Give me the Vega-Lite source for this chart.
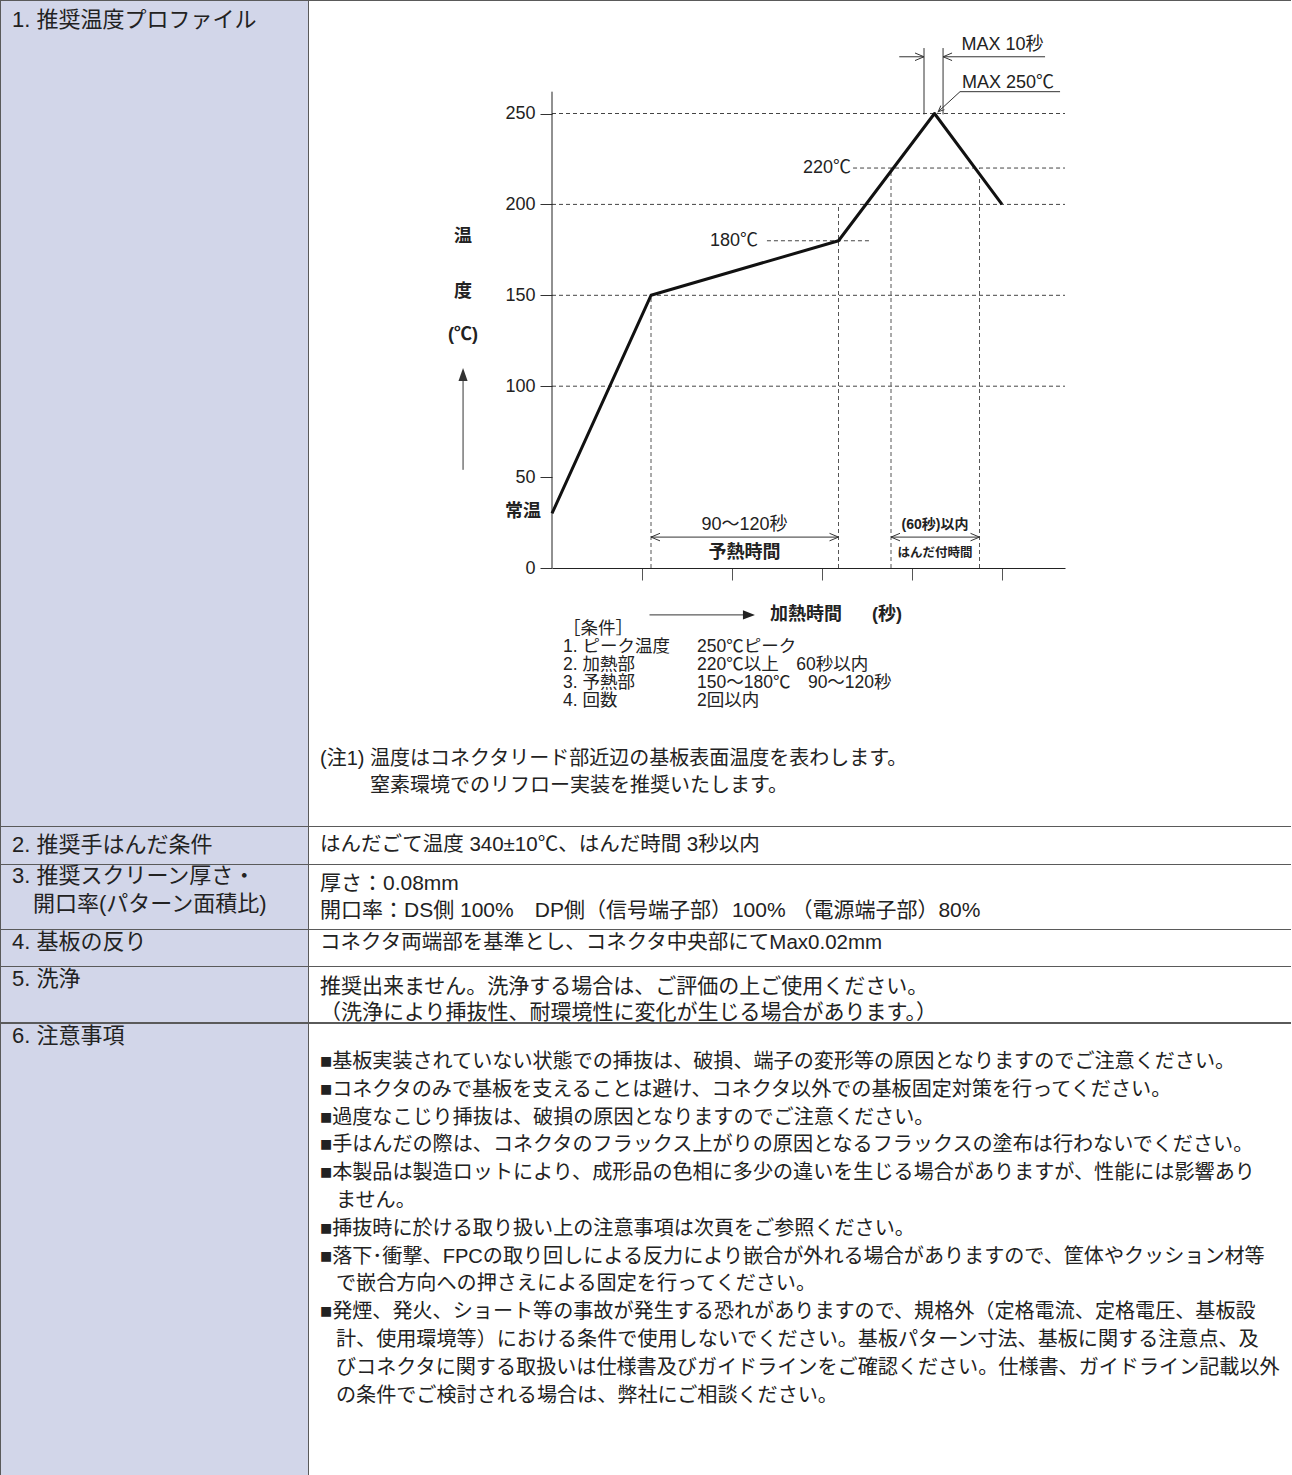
{
  "$schema": "https://vega.github.io/schema/vega-lite/v6.json",
  "padding": {"left": 1, "top": 1, "right": 0, "bottom": 0},
  "spacing": 1,
  "background": "#5a5a5a",
  "config": {
    "view": {"stroke": null},
    "concat": {"spacing": 1},
    "text": {"font": "Liberation Sans, Noto Sans CJK JP, sans-serif", "color": "#222222"}
  },
  "vconcat": [
    {
      "spacing": 1,
      "hconcat": [
        {
          "width": 307, "height": 825,
          "view": {"fill": "#d2d6e9", "stroke": null},
          "data": {"values": [{"line": 0, "text": "1. 推奨温度プロファイル"}]},
          "mark": {"type": "text", "align": "left", "baseline": "middle", "fontSize": 22},
          "encoding": {
            "x": {"datum": 0, "type": "quantitative", "scale": {"domain": [0, 1], "range": [11, 307], "nice": false, "zero": false}, "axis": null},
            "y": {"field": "line", "type": "quantitative", "scale": {"domain": [0, 1], "range": [19, 47], "nice": false, "zero": false}, "axis": null},
            "text": {"field": "text"}
          }
        },
        {
          "width": 982, "height": 825,
          "view": {"fill": "white", "stroke": null},
          "resolve": {"scale": {"x": "independent", "y": "independent"}},
          "layer": [
            {
              "encoding": {
                "x": {"field": "t", "type": "quantitative",
                      "scale": {"domain": [0, 342], "range": [243, 756], "nice": false, "zero": false},
                      "axis": {"orient": "bottom", "offset": -258, "values": [60, 120, 180, 240, 300], "labels": false, "grid": false, "domain": true, "domainColor": "#222222", "domainWidth": 1, "ticks": true, "tickSize": 12, "tickColor": "#555555", "tickWidth": 1, "title": null}},
                "y": {"field": "temp", "type": "quantitative",
                      "scale": {"domain": [0, 250], "range": [567, 112.5], "nice": false, "zero": false},
                      "axis": {"orient": "left", "offset": -243, "values": [0, 50, 100, 150, 200, 250], "grid": false, "domain": false, "ticks": true, "tickSize": 12, "tickColor": "#333333", "tickWidth": 1, "labelFontSize": 18, "labelFont": "Liberation Sans", "labelColor": "#222222", "labelPadding": 5, "title": null}}
              },
              "layer": [
                {
                  "data": {"values": [
                    {"temp": 250, "t": 0, "t2": 342},
                    {"temp": 200, "t": 0, "t2": 342},
                    {"temp": 150, "t": 0, "t2": 342},
                    {"temp": 100, "t": 0, "t2": 342},
                    {"temp": 220, "t": 200.7, "t2": 342},
                    {"temp": 180, "t": 143.3, "t2": 212}
                  ]},
                  "mark": {"type": "rule", "strokeDash": [4, 3], "color": "#444444", "strokeWidth": 1},
                  "encoding": {"x2": {"field": "t2"}}
                },
                {
                  "data": {"values": [
                    {"t": 66, "temp": 0, "temp2": 150},
                    {"t": 191, "temp": 0, "temp2": 200},
                    {"t": 226, "temp": 0, "temp2": 220},
                    {"t": 285, "temp": 0, "temp2": 220}
                  ]},
                  "mark": {"type": "rule", "strokeDash": [4, 3], "color": "#555555", "strokeWidth": 1},
                  "encoding": {"y2": {"field": "temp2"}}
                },
                {
                  "data": {"values": [{"t": 0, "temp": 0, "temp2": 262}]},
                  "mark": {"type": "rule", "color": "#222222", "strokeWidth": 1},
                  "encoding": {"y2": {"field": "temp2"}}
                },
                {
                  "data": {"values": [
                    {"t": 0, "temp": 30},
                    {"t": 66, "temp": 150},
                    {"t": 191, "temp": 180},
                    {"t": 255, "temp": 250},
                    {"t": 300, "temp": 200}
                  ]},
                  "mark": {"type": "line", "color": "#111111", "strokeWidth": 3, "strokeJoin": "round"},
                  "encoding": {}
                },
                {
                  "data": {"values": [
                    {"t": 248, "temp": 249.5, "t2": 248, "temp2": 286},
                    {"t": 260.7, "temp": 249.5, "t2": 260.7, "temp2": 286},
                    {"t": 231.5, "temp": 281.2, "t2": 248, "temp2": 281.2},
                    {"t": 260.7, "temp": 281.2, "t2": 328.7, "temp2": 281.2},
                    {"t": 272, "temp": 262, "t2": 338.7, "temp2": 262},
                    {"t": 272, "temp": 262, "t2": 257.5, "temp2": 251},
                    {"t": 66, "temp": 17, "t2": 191, "temp2": 17},
                    {"t": 226, "temp": 17, "t2": 285, "temp2": 17},
                    {"t": 65, "temp": -25.8, "t2": 130, "temp2": -25.8},
                    {"t": -59.3, "temp": 54, "t2": -59.3, "temp2": 104}
                  ]},
                  "mark": {"type": "rule", "color": "#333333", "strokeWidth": 1},
                  "encoding": {"x2": {"field": "t2"}, "y2": {"field": "temp2"}}
                },
                {
                  "data": {"values": [{"t": 248, "temp": 281.2}, {"t": 191, "temp": 17}, {"t": 285, "temp": 17}]},
                  "mark": {"type": "point", "shape": "M-1,-0.42L0,0L-1,0.42", "filled": false, "stroke": "#333333", "strokeWidth": 1, "size": 324, "opacity": 1},
                  "encoding": {}
                },
                {
                  "data": {"values": [{"t": 260.7, "temp": 281.2}, {"t": 66, "temp": 17}, {"t": 226, "temp": 17}]},
                  "mark": {"type": "point", "shape": "M1,-0.42L0,0L1,0.42", "filled": false, "stroke": "#333333", "strokeWidth": 1, "size": 324, "opacity": 1},
                  "encoding": {}
                },
                {
                  "data": {"values": [{"t": 257.5, "temp": 251}]},
                  "mark": {"type": "point", "shape": "M-1,-0.45L0,0L-1,0.45", "filled": false, "stroke": "#333333", "strokeWidth": 1, "size": 144, "angle": 137.6, "opacity": 1},
                  "encoding": {}
                },
                {
                  "data": {"values": [{"t": -59.3, "temp": 110}]},
                  "mark": {"type": "point", "shape": "M0,0L-0.35,1L0.35,1Z", "filled": true, "color": "#333333", "size": 676, "opacity": 1},
                  "encoding": {}
                },
                {
                  "data": {"values": [{"t": 135.3, "temp": -25.8}]},
                  "mark": {"type": "point", "shape": "M0,0L-1,-0.38L-1,0.38Z", "filled": true, "color": "#222222", "size": 576, "opacity": 1},
                  "encoding": {}
                },
                {
                  "data": {"values": [{"t": 199.3, "temp": 220, "label": "220℃"}, {"t": 137.3, "temp": 180, "label": "180℃"}]},
                  "mark": {"type": "text", "align": "right", "baseline": "middle", "fontSize": 18},
                  "encoding": {"text": {"field": "label"}}
                },
                {
                  "data": {"values": [{"t": 128.3, "temp": 23.7, "label": "90〜120秒"}]},
                  "mark": {"type": "text", "align": "center", "baseline": "middle", "fontSize": 18},
                  "encoding": {"text": {"field": "label"}}
                },
                {
                  "data": {"values": [
                    {"t": 128.3, "temp": 8.3, "label": "予熱時間"},
                    {"t": -59.3, "temp": 182, "label": "温"},
                    {"t": -59.3, "temp": 151.8, "label": "度"},
                    {"t": -59.3, "temp": 128.2, "label": "(℃)"}
                  ]},
                  "mark": {"type": "text", "align": "center", "baseline": "middle", "fontSize": 18, "fontWeight": "bold"},
                  "encoding": {"text": {"field": "label"}}
                },
                {
                  "data": {"values": [{"t": 255.3, "temp": 23.7, "label": "(60秒)以内"}]},
                  "mark": {"type": "text", "align": "center", "baseline": "middle", "fontSize": 14, "fontWeight": "bold"},
                  "encoding": {"text": {"field": "label"}}
                },
                {
                  "data": {"values": [{"t": 255.3, "temp": 8.3, "label": "はんだ付時間"}]},
                  "mark": {"type": "text", "align": "center", "baseline": "middle", "fontSize": 12.5, "fontWeight": "bold"},
                  "encoding": {"text": {"field": "label"}}
                },
                {
                  "data": {"values": [{"t": 273, "temp": 287.7, "label": "MAX 10秒"}, {"t": 273.3, "temp": 267, "label": "MAX 250℃"}]},
                  "mark": {"type": "text", "align": "left", "baseline": "middle", "fontSize": 18},
                  "encoding": {"text": {"field": "label"}}
                },
                {
                  "data": {"values": [{"t": 145.3, "temp": -25.8, "label": "加熱時間"}, {"t": 213.3, "temp": -25.8, "label": "(秒)"}]},
                  "mark": {"type": "text", "align": "left", "baseline": "middle", "fontSize": 18, "fontWeight": "bold"},
                  "encoding": {"text": {"field": "label"}}
                },
                {
                  "data": {"values": [{"t": -7.3, "temp": 31, "label": "常温"}]},
                  "mark": {"type": "text", "align": "right", "baseline": "middle", "fontSize": 18, "fontWeight": "bold"},
                  "encoding": {"text": {"field": "label"}}
                }
              ]
            },
            {
              "data": {"values": [
                {"col": 0, "line": 0, "text": "［条件］"},
                {"col": 0, "line": 1, "text": "1. ピーク温度"},
                {"col": 1, "line": 1, "text": "250℃ピーク"},
                {"col": 0, "line": 2, "text": "2. 加熱部"},
                {"col": 1, "line": 2, "text": "220℃以上　60秒以内"},
                {"col": 0, "line": 3, "text": "3. 予熱部"},
                {"col": 1, "line": 3, "text": "150〜180℃　90〜120秒"},
                {"col": 0, "line": 4, "text": "4. 回数"},
                {"col": 1, "line": 4, "text": "2回以内"}
              ]},
              "mark": {"type": "text", "align": "left", "baseline": "middle", "fontSize": 17.5},
              "encoding": {
                "x": {"field": "col", "type": "quantitative", "scale": {"domain": [0, 1], "range": [254, 388], "nice": false, "zero": false}, "axis": null},
                "y": {"field": "line", "type": "quantitative", "scale": {"domain": [0, 4], "range": [628, 700], "nice": false, "zero": false}, "axis": null},
                "text": {"field": "text"}
              }
            },
            {
              "data": {"values": [
                {"line": 0, "indent": 0, "text": "(注1)\u00a0温度はコネクタリード部近辺の基板表面温度を表わします。"},
                {"line": 1, "indent": 1, "text": "窒素環境でのリフロー実装を推奨いたします。"}
              ]},
              "mark": {"type": "text", "align": "left", "baseline": "middle", "fontSize": 20},
              "encoding": {
                "x": {"field": "indent", "type": "quantitative", "scale": {"domain": [0, 1], "range": [11, 61], "nice": false, "zero": false}, "axis": null},
                "y": {"field": "line", "type": "quantitative", "scale": {"domain": [0, 1], "range": [758, 785], "nice": false, "zero": false}, "axis": null},
                "text": {"field": "text"}
              }
            }
          ]
        }
      ]
    },
    {
      "spacing": 1,
      "hconcat": [
        {
          "width": 307, "height": 37,
          "view": {"fill": "#d2d6e9", "stroke": null},
          "data": {"values": [{"line": 0, "text": "2. 推奨手はんだ条件"}]},
          "mark": {"type": "text", "align": "left", "baseline": "middle", "fontSize": 22},
          "encoding": {
            "x": {"datum": 0, "type": "quantitative", "scale": {"domain": [0, 1], "range": [11, 307], "nice": false, "zero": false}, "axis": null},
            "y": {"field": "line", "type": "quantitative", "scale": {"domain": [0, 1], "range": [18, 46], "nice": false, "zero": false}, "axis": null},
            "text": {"field": "text"}
          }
        },
        {
          "width": 982, "height": 37,
          "view": {"fill": "white", "stroke": null},
          "data": {"values": [{"line": 0, "text": "はんだごて温度 340±10℃、はんだ時間 3秒以内"}]},
          "mark": {"type": "text", "align": "left", "baseline": "middle", "fontSize": 20.5},
          "encoding": {
            "x": {"datum": 0, "type": "quantitative", "scale": {"domain": [0, 1], "range": [11, 982], "nice": false, "zero": false}, "axis": null},
            "y": {"field": "line", "type": "quantitative", "scale": {"domain": [0, 1], "range": [18, 45], "nice": false, "zero": false}, "axis": null},
            "text": {"field": "text"}
          }
        }
      ]
    },
    {
      "spacing": 1,
      "hconcat": [
        {
          "width": 307, "height": 64,
          "view": {"fill": "#d2d6e9", "stroke": null},
          "data": {"values": [{"line": 0, "indent": 0, "text": "3. 推奨スクリーン厚さ・"}, {"line": 1, "indent": 1, "text": "開口率(パターン面積比)"}]},
          "mark": {"type": "text", "align": "left", "baseline": "middle", "fontSize": 22},
          "encoding": {
            "x": {"field": "indent", "type": "quantitative", "scale": {"domain": [0, 1], "range": [11, 32], "nice": false, "zero": false}, "axis": null},
            "y": {"field": "line", "type": "quantitative", "scale": {"domain": [0, 1], "range": [11, 39], "nice": false, "zero": false}, "axis": null},
            "text": {"field": "text"}
          }
        },
        {
          "width": 982, "height": 64,
          "view": {"fill": "white", "stroke": null},
          "data": {"values": [{"line": 0, "text": "厚さ：0.08mm"}, {"line": 1, "text": "開口率：DS側 100%　DP側（信号端子部）100% （電源端子部）80%"}]},
          "mark": {"type": "text", "align": "left", "baseline": "middle", "fontSize": 21},
          "encoding": {
            "x": {"datum": 0, "type": "quantitative", "scale": {"domain": [0, 1], "range": [11, 982], "nice": false, "zero": false}, "axis": null},
            "y": {"field": "line", "type": "quantitative", "scale": {"domain": [0, 1], "range": [19, 46], "nice": false, "zero": false}, "axis": null},
            "text": {"field": "text"}
          }
        }
      ]
    },
    {
      "spacing": 1,
      "hconcat": [
        {
          "width": 307, "height": 36,
          "view": {"fill": "#d2d6e9", "stroke": null},
          "data": {"values": [{"line": 0, "text": "4. 基板の反り"}]},
          "mark": {"type": "text", "align": "left", "baseline": "middle", "fontSize": 22},
          "encoding": {
            "x": {"datum": 0, "type": "quantitative", "scale": {"domain": [0, 1], "range": [11, 307], "nice": false, "zero": false}, "axis": null},
            "y": {"field": "line", "type": "quantitative", "scale": {"domain": [0, 1], "range": [12, 40], "nice": false, "zero": false}, "axis": null},
            "text": {"field": "text"}
          }
        },
        {
          "width": 982, "height": 36,
          "view": {"fill": "white", "stroke": null},
          "data": {"values": [{"line": 0, "text": "コネクタ両端部を基準とし、コネクタ中央部にてMax0.02mm"}]},
          "mark": {"type": "text", "align": "left", "baseline": "middle", "fontSize": 20.5},
          "encoding": {
            "x": {"datum": 0, "type": "quantitative", "scale": {"domain": [0, 1], "range": [11, 982], "nice": false, "zero": false}, "axis": null},
            "y": {"field": "line", "type": "quantitative", "scale": {"domain": [0, 1], "range": [13, 40], "nice": false, "zero": false}, "axis": null},
            "text": {"field": "text"}
          }
        }
      ]
    },
    {
      "spacing": 1,
      "hconcat": [
        {
          "width": 307, "height": 55,
          "view": {"fill": "#d2d6e9", "stroke": null},
          "data": {"values": [{"line": 0, "text": "5. 洗浄"}]},
          "mark": {"type": "text", "align": "left", "baseline": "middle", "fontSize": 22},
          "encoding": {
            "x": {"datum": 0, "type": "quantitative", "scale": {"domain": [0, 1], "range": [11, 307], "nice": false, "zero": false}, "axis": null},
            "y": {"field": "line", "type": "quantitative", "scale": {"domain": [0, 1], "range": [12, 40], "nice": false, "zero": false}, "axis": null},
            "text": {"field": "text"}
          }
        },
        {
          "width": 982, "height": 55,
          "view": {"fill": "white", "stroke": null},
          "data": {"values": [{"line": 0, "text": "推奨出来ません。洗浄する場合は、ご評価の上ご使用ください。"}, {"line": 1, "text": "（洗浄により挿抜性、耐環境性に変化が生じる場合があります。）"}]},
          "mark": {"type": "text", "align": "left", "baseline": "middle", "fontSize": 21},
          "encoding": {
            "x": {"datum": 0, "type": "quantitative", "scale": {"domain": [0, 1], "range": [11, 982], "nice": false, "zero": false}, "axis": null},
            "y": {"field": "line", "type": "quantitative", "scale": {"domain": [0, 1], "range": [20, 46], "nice": false, "zero": false}, "axis": null},
            "text": {"field": "text"}
          }
        }
      ]
    },
    {
      "spacing": 1,
      "hconcat": [
        {
          "width": 307, "height": 470,
          "view": {"fill": "#d2d6e9", "stroke": null},
          "data": {"values": [{"line": 0, "text": "6. 注意事項"}]},
          "mark": {"type": "text", "align": "left", "baseline": "middle", "fontSize": 22},
          "encoding": {
            "x": {"datum": 0, "type": "quantitative", "scale": {"domain": [0, 1], "range": [11, 307], "nice": false, "zero": false}, "axis": null},
            "y": {"field": "line", "type": "quantitative", "scale": {"domain": [0, 1], "range": [12, 40], "nice": false, "zero": false}, "axis": null},
            "text": {"field": "text"}
          }
        },
        {
          "width": 982, "height": 470,
          "view": {"fill": "white", "stroke": null},
          "data": {"values": [
            {"line": 0, "indent": 0, "text": "■基板実装されていない状態での挿抜は、破損、端子の変形等の原因となりますのでご注意ください。"},
            {"line": 1, "indent": 0, "text": "■コネクタのみで基板を支えることは避け、コネクタ以外での基板固定対策を行ってください。"},
            {"line": 2, "indent": 0, "text": "■過度なこじり挿抜は、破損の原因となりますのでご注意ください。"},
            {"line": 3, "indent": 0, "text": "■手はんだの際は、コネクタのフラックス上がりの原因となるフラックスの塗布は行わないでください。"},
            {"line": 4, "indent": 0, "text": "■本製品は製造ロットにより、成形品の色相に多少の違いを生じる場合がありますが、性能には影響あり"},
            {"line": 5, "indent": 1, "text": "ません。"},
            {"line": 6, "indent": 0, "text": "■挿抜時に於ける取り扱い上の注意事項は次頁をご参照ください。"},
            {"line": 7, "indent": 0, "text": "■落下･衝撃、FPCの取り回しによる反力により嵌合が外れる場合がありますので、筐体やクッション材等"},
            {"line": 8, "indent": 1, "text": "で嵌合方向への押さえによる固定を行ってください。"},
            {"line": 9, "indent": 0, "text": "■発煙、発火、ショート等の事故が発生する恐れがありますので、規格外（定格電流、定格電圧、基板設"},
            {"line": 10, "indent": 1, "text": "計、使用環境等）における条件で使用しないでください。基板パターン寸法、基板に関する注意点、及"},
            {"line": 11, "indent": 1, "text": "びコネクタに関する取扱いは仕様書及びガイドラインをご確認ください。仕様書、ガイドライン記載以外"},
            {"line": 12, "indent": 1, "text": "の条件でご検討される場合は、弊社にご相談ください。"}
          ]},
          "mark": {"type": "text", "align": "left", "baseline": "middle", "fontSize": 20.1},
          "encoding": {
            "x": {"field": "indent", "type": "quantitative", "scale": {"domain": [0, 1], "range": [11, 27], "nice": false, "zero": false}, "axis": null},
            "y": {"field": "line", "type": "quantitative", "scale": {"domain": [0, 1], "range": [38, 65.8], "nice": false, "zero": false}, "axis": null},
            "text": {"field": "text"}
          }
        }
      ]
    }
  ]
}
